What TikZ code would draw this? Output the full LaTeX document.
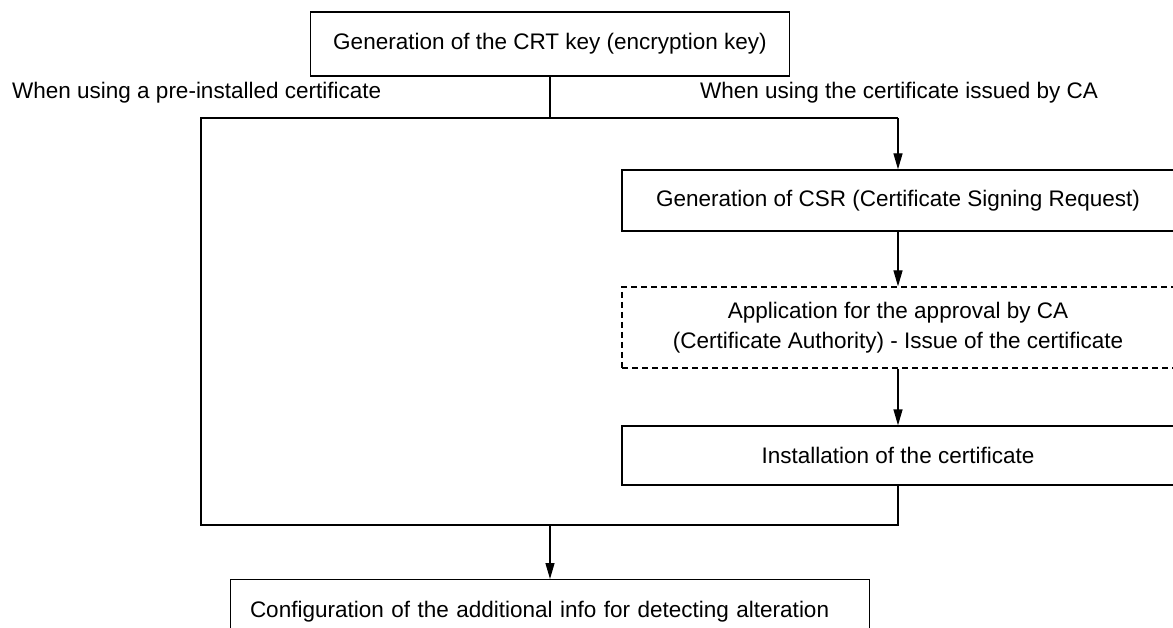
\documentclass[tikz,border=0pt]{standalone}
\usepackage{fontspec}
\setmainfont{Liberation Sans}
\usetikzlibrary{arrows.meta}
\begin{document}
\begin{tikzpicture}[x=1pt,y=-1pt,
  txt/.style={font=\fontsize{22.5}{30}\selectfont},
  box/.style={draw, line width=1.3pt, inner sep=0pt, txt, align=center},
  lbl/.style={inner sep=0pt, txt, anchor=west},
  conn/.style={line width=1.3pt},
  arr/.style={line width=1.3pt, -{Triangle[length=16pt,width=9pt]}},
  dashbox/.style={box, dash pattern=on 6pt off 4pt}]
\useasboundingbox (0,0) rectangle (1173,628);
\clip (0,0) rectangle (1173,628);
\fill[white] (0,0) rectangle (1173,628);

\node[box, minimum width=479pt, minimum height=64pt] (crt) at (550,44) {Generation of the CRT key (encryption key)};
\node[lbl] (lpre) at (12,93) {When using a pre-installed certificate};
\node[lbl] (lca) at (700,93) {When using the certificate issued by CA};

\coordinate (fm) at (550,118);
\coordinate (fl) at (201,118);
\coordinate (fr) at (898,118);
\coordinate (bl) at (201,525);
\coordinate (bm) at (550,525);
\coordinate (br) at (898,525);

\node[box, minimum width=552pt, minimum height=61pt] (csr) at (898,200.5) {Generation of CSR (Certificate Signing Request)};
\node[dashbox, minimum width=552pt, minimum height=81pt] (app) at (898,327.5) {Application for the approval by CA\\(Certificate Authority) - Issue of the certificate};
\node[box, minimum width=552pt, minimum height=59pt] (inst) at (898,455.5) {Installation of the certificate};
\node[box, anchor=north, minimum height=64pt, text width=600pt, inner xsep=19.5pt, align=left] (conf) at (550,579) {Configuration of the additional info for detecting alteration};

\draw[conn] (crt.south) -- (fm);
\draw[conn] (inst.south) -- (br) -- (bl) -- (fl) -- (fr);
\draw[arr] (fr) -- (csr.north);
\draw[arr] (csr.south) -- (app.north);
\draw[arr] (app.south) -- (inst.north);
\draw[arr] (bm) -- (conf.north);
\end{tikzpicture}
\end{document}
